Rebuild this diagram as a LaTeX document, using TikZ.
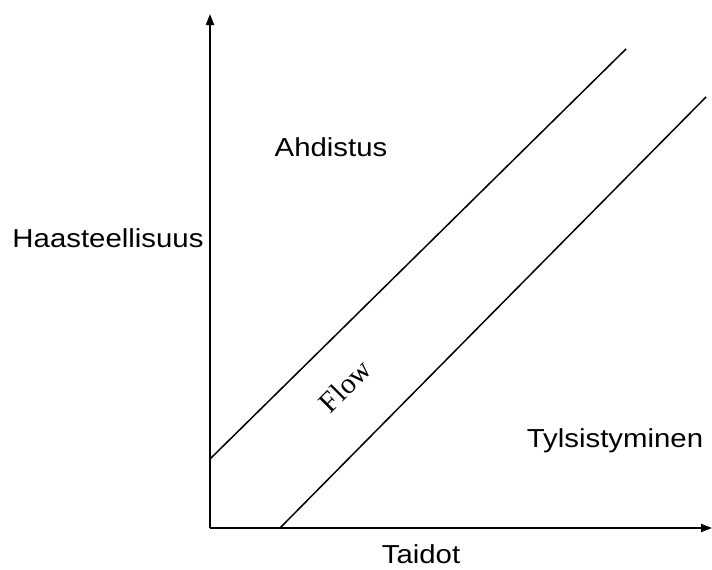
\documentclass[tikz,border=0pt]{standalone}
\usepackage{fontspec}
\setmainfont{Liberation Sans}
\newfontfamily\flowfont{Liberation Serif}
\usetikzlibrary{arrows.meta}
\begin{document}
\begin{tikzpicture}[x=1pt,y=-1pt,
  axis/.style={line width=1.8pt,-{Triangle[length=11pt,width=8pt]}},
  band/.style={line width=1.5pt},
  lbl/.style={inner sep=0pt,font=\fontsize{26}{30}\selectfont,anchor=base}]
\useasboundingbox (0,0) rectangle (712,570);
\coordinate (O) at (210,528);
\coordinate (ytip) at (210,14);
\coordinate (xtip) at (712,528);
\coordinate (a1) at (210,459);
\coordinate (a2) at (626,49);
\coordinate (b1) at (280,528);
\coordinate (b2) at (706,97);
\draw[axis] (O) -- (ytip);
\draw[axis] (O) -- (xtip);
\draw[band] (a1) -- (a2);
\draw[band] (b1) -- (b2);
\node[lbl] (ahd) at (331,156) {\scalebox{1.13}[1]{Ahdistus}};
\node[lbl] (haa) at (108,247) {\scalebox{1.13}[1]{Haasteellisuus}};
\node[lbl] (tyl) at (615,447) {\scalebox{1.13}[1]{Tylsistyminen}};
\node[lbl] (tai) at (421,563) {\scalebox{1.13}[1]{Taidot}};
\node[inner sep=0pt,font=\flowfont\fontsize{29}{33}\selectfont,rotate=45] (flow) at (345,386) {Flow};
\end{tikzpicture}
\end{document}
